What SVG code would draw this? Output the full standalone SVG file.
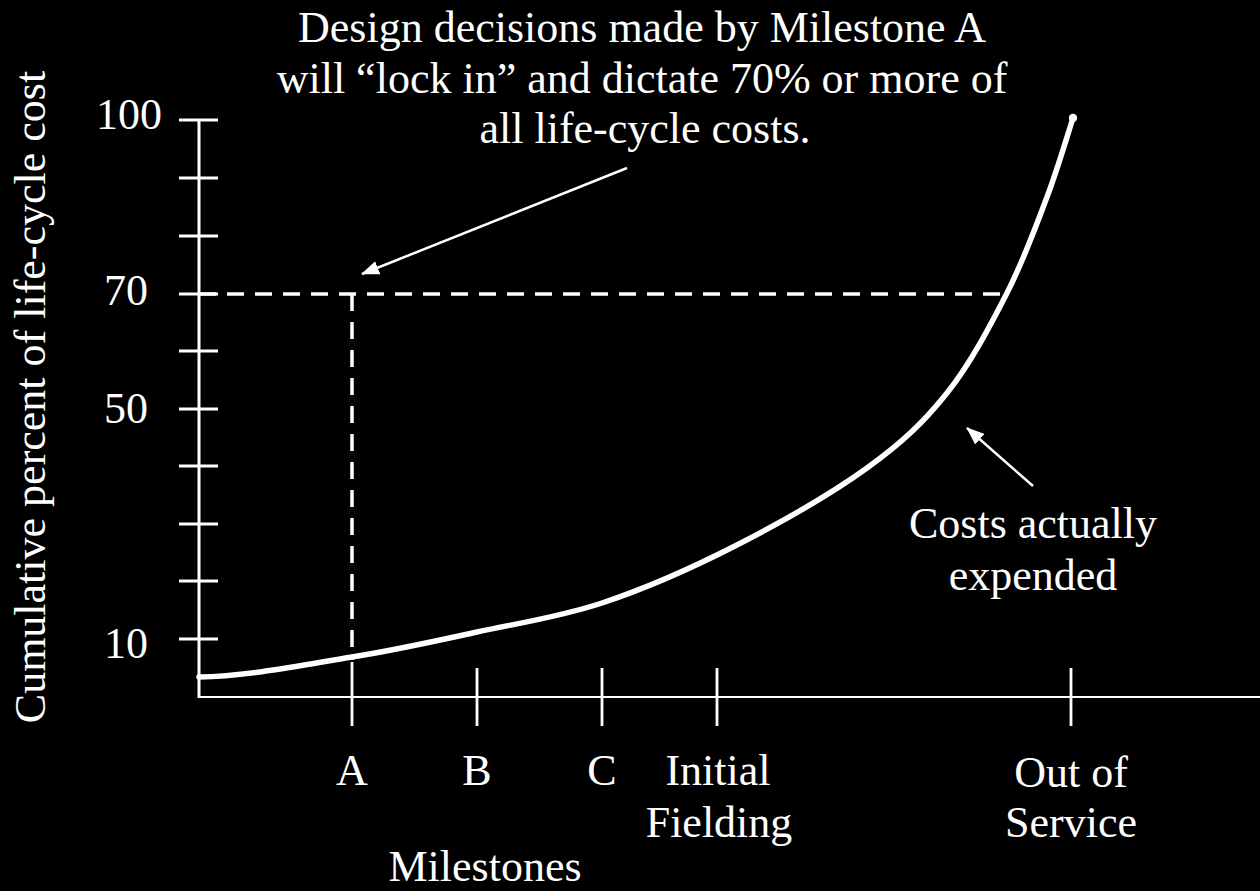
<svg xmlns="http://www.w3.org/2000/svg" width="1260" height="891" viewBox="0 0 1260 891">
<style>
text{font-family:"Liberation Serif","Times New Roman",serif;font-size:44px;fill:#fff}
.c{text-anchor:middle}
.ax{stroke:#fff;fill:none}
.dash{stroke:#fff;stroke-width:3.5;stroke-dasharray:17 11;fill:none}
.arr{stroke:#fff;stroke-width:2.5;fill:none;marker-end:url(#ah)}
</style>
<defs>
<marker id="ah" markerUnits="userSpaceOnUse" markerWidth="18" markerHeight="14" refX="17" refY="7" orient="auto">
<path d="M0,0 L18,7 L0,14 z" fill="#fff"/>
</marker>
</defs>
<rect x="0" y="0" width="1260" height="891" fill="#000"/>
<g id="axes">
<line class="ax" x1="199" y1="119" x2="199" y2="698" stroke-width="3"/>
<line class="ax" x1="198" y1="697" x2="1260" y2="697" stroke-width="2.2"/>
<g stroke="#fff" stroke-width="3">
<line x1="179" y1="120" x2="218" y2="120"/>
<line x1="179" y1="178" x2="218" y2="178"/>
<line x1="179" y1="236" x2="218" y2="236"/>
<line x1="179" y1="294" x2="218" y2="294"/>
<line x1="179" y1="351" x2="218" y2="351"/>
<line x1="179" y1="409" x2="218" y2="409"/>
<line x1="179" y1="466" x2="218" y2="466"/>
<line x1="179" y1="524" x2="218" y2="524"/>
<line x1="179" y1="581" x2="218" y2="581"/>
<line x1="179" y1="639" x2="218" y2="639"/>
</g>
<g stroke="#fff" stroke-width="2.8">
<line x1="352" y1="662" x2="352" y2="726"/>
<line x1="477" y1="668" x2="477" y2="726"/>
<line x1="602" y1="668" x2="602" y2="726"/>
<line x1="717" y1="668" x2="717" y2="726"/>
<line x1="1071" y1="668" x2="1071" y2="726"/>
</g>
</g>
<g id="y-labels">
<text class="c" x="129" y="129">100</text>
<text class="c" x="126" y="305">70</text>
<text class="c" x="126" y="423">50</text>
<text class="c" x="126" y="658">10</text>
<text class="c" x="45" y="397" transform="rotate(-90 45 397)">Cumulative percent of life-cycle cost</text>
</g>
<g id="x-labels">
<text class="c" x="352" y="785">A</text>
<text class="c" x="477" y="785">B</text>
<text class="c" x="602" y="785">C</text>
<text class="c" x="718" y="785">Initial</text>
<text class="c" x="719" y="837">Fielding</text>
<text class="c" x="1071" y="787">Out of</text>
<text class="c" x="1071" y="837">Service</text>
<text class="c" x="485" y="881">Milestones</text>
</g>
<g id="guides">
<line class="dash" x1="199" y1="294" x2="1001" y2="294"/>
<line class="dash" x1="352" y1="294" x2="352" y2="660"/>
</g>
<g id="cost-curve">
<path d="M199,677 C250,676 305.7,664.5 352,657 C398.3,649.5 435.3,641 477,632 C518.7,623 559.3,617.2 602,603 C644.7,588.8 688.8,569.5 733,547 C777.2,524.5 831.3,493.7 867,468 C902.7,442.3 923.7,422.2 947,393 C970.3,363.8 990.3,325.7 1007,293 C1023.7,260.3 1036,226.2 1047,197 C1058,167.8 1068.7,131.2 1073,118" fill="none" stroke="#fff" stroke-width="5.5" stroke-linecap="round"/>
<circle cx="1073" cy="118" r="4.2" fill="#fff"/>
</g>
<g id="title">
<text class="c" x="642" y="42">Design decisions made by Milestone A</text>
<text class="c" x="642" y="93">will “lock in” and dictate 70% or more of</text>
<text class="c" x="645" y="143">all life-cycle costs.</text>
</g>
<g id="costs-label">
<text class="c" x="1033" y="538">Costs actually</text>
<text class="c" x="1033" y="590">expended</text>
</g>
<g id="connectors">
<line class="arr" x1="627" y1="168" x2="362" y2="274"/>
<line class="arr" x1="1033" y1="486" x2="967" y2="428"/>
</g>
</svg>
